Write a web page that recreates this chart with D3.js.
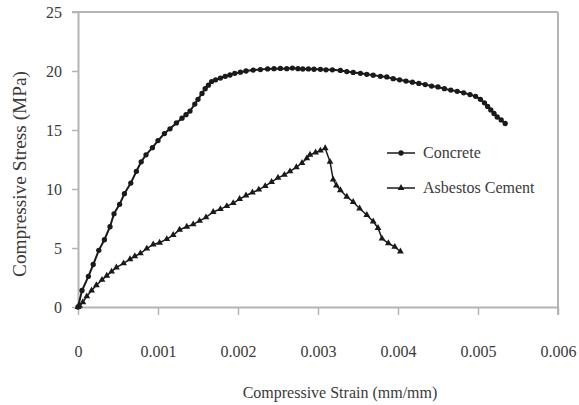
<!DOCTYPE html>
<html>
<head>
<meta charset="utf-8">
<script src="https://cdn.jsdelivr.net/npm/d3@7"></script>
<style>
  body { margin: 0; background: #fff; }
  svg { display: block; }
  svg text { font-family: "Liberation Serif", "Times New Roman", "DejaVu Serif", serif !important; }
</style>
</head>
<body>
<svg id="chart"></svg>
<script>
// concrete: [strain, stress]
const concrete = [
  [0, 0], [0.00005, 1.4], [0.00013, 2.6], [0.00019, 3.6], [0.00026, 4.8], [0.00033, 5.7],
  [0.0004, 6.8], [0.00045, 7.9], [0.00052, 8.7], [0.00058, 9.6], [0.00066, 10.5],
  [0.00073, 11.5], [0.00079, 12.3], [0.00085, 12.9], [0.00093, 13.5], [0.001, 14.1],
  [0.00108, 14.7], [0.00115, 15.1], [0.00123, 15.6], [0.0013, 16.0], [0.00135, 16.3],
  [0.0014, 16.6], [0.00146, 17.2], [0.0015, 17.6], [0.00155, 18.1], [0.00159, 18.5],
  [0.00163, 18.8], [0.00167, 19.1], [0.00172, 19.25], [0.00178, 19.4], [0.00184, 19.55],
  [0.0019, 19.66], [0.00196, 19.8], [0.00203, 19.9], [0.0021, 20.0], [0.00219, 20.08],
  [0.00228, 20.12], [0.00237, 20.18], [0.00245, 20.2], [0.00253, 20.22], [0.00261, 20.2],
  [0.00268, 20.25], [0.00275, 20.2], [0.00281, 20.17], [0.00288, 20.18], [0.00295, 20.15],
  [0.00303, 20.14], [0.0031, 20.1], [0.00318, 20.1], [0.00328, 20.05], [0.00336, 19.95],
  [0.00344, 19.88], [0.00353, 19.8], [0.00361, 19.72], [0.00369, 19.65], [0.00378, 19.55],
  [0.00386, 19.5], [0.00394, 19.35], [0.00402, 19.25], [0.0041, 19.15], [0.00418, 19.05],
  [0.00426, 18.95], [0.00434, 18.85], [0.00442, 18.72], [0.0045, 18.65], [0.00458, 18.5],
  [0.00466, 18.38], [0.00474, 18.28], [0.00482, 18.15], [0.0049, 18.0], [0.00497, 17.85],
  [0.00503, 17.6], [0.00508, 17.3], [0.00512, 17.0], [0.00516, 16.7], [0.0052, 16.4],
  [0.00524, 16.1], [0.00529, 15.85], [0.00534, 15.55]
];

// asbestos cement: [strain, stress]
const asbestos = [
  [0, 0], [0.00002, 0.1], [0.00006, 0.4], [0.00011, 0.9], [0.00017, 1.4], [0.00023, 1.85],
  [0.0003, 2.3], [0.00036, 2.65], [0.00042, 3.0], [0.00048, 3.35], [0.00057, 3.7],
  [0.00065, 4.05], [0.00071, 4.3], [0.00078, 4.55], [0.00086, 4.95], [0.00094, 5.3],
  [0.00102, 5.45], [0.00111, 5.75], [0.00119, 6.1], [0.00127, 6.55], [0.00136, 6.8],
  [0.00144, 7.0], [0.00152, 7.3], [0.0016, 7.6], [0.00169, 8.05], [0.00178, 8.3],
  [0.00186, 8.55], [0.00194, 8.8], [0.00202, 9.15], [0.0021, 9.45], [0.00218, 9.7],
  [0.00226, 9.95], [0.00234, 10.25], [0.00242, 10.6], [0.0025, 10.95], [0.00258, 11.2],
  [0.00265, 11.5], [0.00273, 11.85], [0.0028, 12.2], [0.00286, 12.6], [0.0029, 12.9],
  [0.00297, 13.1], [0.00303, 13.25], [0.00309, 13.45], [0.00315, 12.3], [0.00319, 10.8],
  [0.00323, 10.3], [0.00328, 9.9], [0.00336, 9.35], [0.00344, 8.9], [0.00352, 8.35],
  [0.00361, 7.8], [0.00369, 7.25], [0.00375, 6.7], [0.0038, 5.8], [0.00388, 5.4],
  [0.00396, 5.1], [0.00403, 4.7]
];

const xTicks = [0, 0.001, 0.002, 0.003, 0.004, 0.005, 0.006];
const yTicks = [0, 5, 10, 15, 20, 25];
const seriesNames = ["Concrete", "Asbestos Cement"];

const width = 579, height = 405;
const margin = {top: 12, right: 21, bottom: 98, left: 78};
const font = "Liberation Serif, Times New Roman, serif";
const gray = "#b4b4b4";
const ink = "#1a1a1a";
const textColor = "#3a3a3a";

const svg = d3.select("#chart")
  .attr("width", width)
  .attr("height", height)
  .attr("font-family", font);

const xScale = d3.scaleLinear().domain([0, 0.006]).range([margin.left, width - margin.right]);
const yScale = d3.scaleLinear().domain([0, 25]).range([height - margin.bottom, margin.top]);

// border top / right
svg.append("line")
  .attr("x1", xScale(0) - 6).attr("x2", xScale(0.006))
  .attr("y1", yScale(25)).attr("y2", yScale(25))
  .attr("stroke", gray).attr("stroke-width", 2);
svg.append("line")
  .attr("x1", xScale(0.006)).attr("x2", xScale(0.006))
  .attr("y1", yScale(25)).attr("y2", yScale(0) + 8)
  .attr("stroke", gray).attr("stroke-width", 2);

// axes
const xAxis = d3.axisBottom(xScale)
  .tickValues(xTicks)
  .tickFormat(d => d === 0 ? "0" : d3.format(".3f")(d))
  .tickSize(8).tickSizeOuter(0).tickPadding(31);
const yAxis = d3.axisLeft(yScale)
  .tickValues(yTicks)
  .tickSize(6).tickSizeOuter(0).tickPadding(10);

const gx = svg.append("g")
  .attr("transform", `translate(0, ${yScale(0)})`)
  .call(xAxis);
const gy = svg.append("g")
  .attr("transform", `translate(${xScale(0)}, 0)`)
  .call(yAxis);

[gx, gy].forEach(g => {
  g.attr("font-family", font).attr("font-size", 16);
  g.select(".domain").attr("stroke", gray).attr("stroke-width", 2);
  g.selectAll(".tick line").attr("stroke", gray).attr("stroke-width", 1.5);
  g.selectAll(".tick text").attr("fill", textColor);
});

// axis titles
svg.append("text")
  .attr("x", 340).attr("y", 398)
  .attr("text-anchor", "middle")
  .attr("fill", textColor)
  .attr("font-size", 16)
  .text("Compressive Strain (mm/mm)");

svg.append("text")
  .attr("transform", "translate(26, 174) rotate(-90)")
  .attr("text-anchor", "middle")
  .attr("fill", textColor)
  .attr("font-size", 18)
  .attr("textLength", 206)
  .attr("lengthAdjust", "spacingAndGlyphs")
  .text("Compressive Stress (MPa)");

// lines + markers
const line = d3.line()
  .x(d => xScale(d[0]))
  .y(d => yScale(d[1]));

const circle = d3.symbol().type(d3.symbolCircle).size(22);
const triangle = d3.symbol().type(d3.symbolTriangle).size(20);

svg.append("path")
  .datum(concrete)
  .attr("d", line)
  .attr("fill", "none")
  .attr("stroke", ink)
  .attr("stroke-width", 2);

svg.selectAll(".pt-concrete")
  .data(concrete)
  .enter()
  .append("path")
    .attr("class", "pt-concrete")
    .attr("transform", d => `translate(${xScale(d[0])}, ${yScale(d[1])})`)
    .attr("d", circle)
    .attr("fill", ink);

svg.append("path")
  .datum(asbestos)
  .attr("d", line)
  .attr("fill", "none")
  .attr("stroke", ink)
  .attr("stroke-width", 1.5);

svg.selectAll(".pt-asbestos")
  .data(asbestos)
  .enter()
  .append("path")
    .attr("class", "pt-asbestos")
    .attr("transform", d => `translate(${xScale(d[0])}, ${yScale(d[1])})`)
    .attr("d", triangle)
    .attr("fill", ink);

// legend
const legend = svg.append("g").attr("transform", "translate(387, 153)");
seriesNames.forEach((name, i) => {
  const row = legend.append("g").attr("transform", `translate(0, ${i * 35})`);
  row.append("line")
    .attr("x1", 0).attr("x2", 28)
    .attr("stroke", ink).attr("stroke-width", 1.5);
  row.append("path")
    .attr("transform", "translate(14, 0)")
    .attr("d", i === 0 ? circle : triangle)
    .attr("fill", ink);
  row.append("text")
    .attr("x", 36).attr("y", 5)
    .attr("fill", textColor)
    .attr("font-size", 16)
    .text(name);
});
</script>
</body>
</html>
